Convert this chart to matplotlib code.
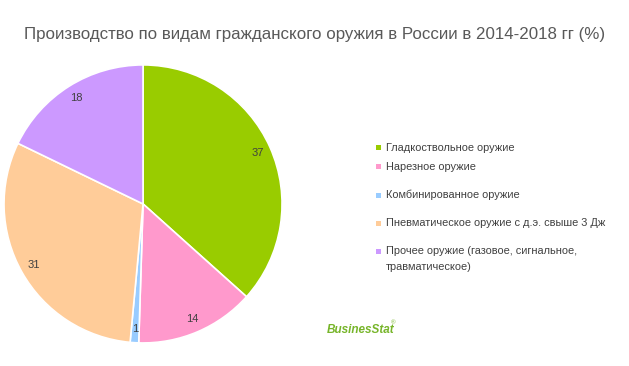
import matplotlib.pyplot as plt
from matplotlib.patches import Rectangle

# data
categories = [
    "Гладкоствольное оружие",
    "Нарезное оружие",
    "Комбинированное оружие",
    "Пневматическое оружие с д.э. свыше 3 Дж",
    "Прочее оружие (газовое, сигнальное,\nтравматическое)",
]
shares = [37, 14, 1, 31, 18]
colors = ["#99CC00", "#FF99CC", "#99CCFF", "#FFCC99", "#CC99FF"]

title = "Производство по видам гражданского оружия в России в 2014-2018 гг (%)"

plt.rcParams['font.family'] = ['Liberation Sans', 'DejaVu Sans']

fig = plt.figure(figsize=(6.29, 3.66), dpi=100)
fig.patch.set_facecolor("white")

ax = fig.add_axes([0.0064, 0.0628, 0.442, 0.760])
wedges, texts = ax.pie(
    shares, colors=colors, startangle=90, counterclock=False,
    labels=[str(v) for v in shares], labeldistance=0.9,
    wedgeprops=dict(edgecolor="white", linewidth=1.2),
    textprops=dict(fontsize=8, color="#404040", ha="center", va="center"),
)
ax.set_xlim(-1, 1)
ax.set_ylim(-1, 1)
ax.set_aspect("equal")

fig.text(0.5, 0.905, title, ha="center", va="center", fontsize=12.2, color="#595959")

# legend drawn by hand
y_pos = [148, 167, 195, 223, 251]
for lab, col, yp in zip(categories, colors, y_pos):
    yf = 1 - yp / 366
    fig.add_artist(Rectangle((376 / 629, yf - 2.5 / 366), 5 / 629, 5 / 366,
                             transform=fig.transFigure, facecolor=col, edgecolor="none"))
    lines = lab.split("\n")
    fig.text(386 / 629, yf, lines[0], ha="left", va="center",
             fontsize=7.9, color="#404040")
    if len(lines) > 1:
        fig.text(386 / 629, yf - 16 / 366, lines[1], ha="left", va="center",
                 fontsize=7.9, color="#404040")

# logo
fig.text(327 / 629, 1 - 330 / 366, "BusinesStat", ha="left", va="center",
         fontsize=8.5, color="#77B52A", fontweight="bold", fontstyle="italic")
fig.text(391 / 629, 1 - 323 / 366, "®", ha="left", va="center", fontsize=4.5, color="#77B52A")

fig.savefig("out.png", dpi=100)
